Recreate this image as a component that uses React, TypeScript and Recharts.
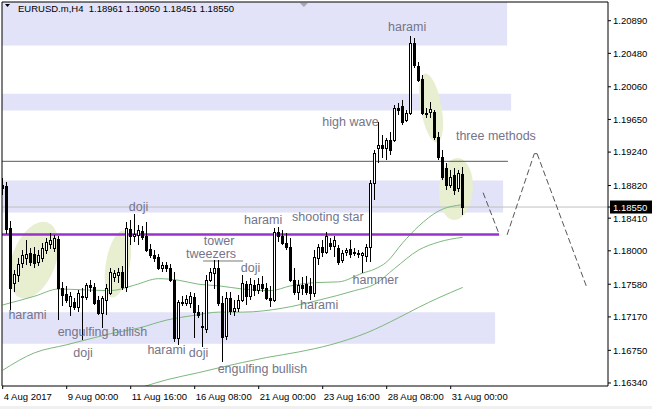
import React from 'react';
import {
  ComposedChart,
  Bar,
  Line,
  XAxis,
  YAxis,
  ReferenceArea,
  ReferenceLine,
  ReferenceDot,
  Customized,
} from 'recharts';

// ---------- data (EURUSD.m, H4) ----------
const opens = [
  1.1883, 1.1881, 1.1829, 1.1760, 1.1770, 1.1785, 1.1791, 1.1797, 1.1796, 1.1786,
  1.1791, 1.1801, 1.1809, 1.1804, 1.1815, 1.1753, 1.1746, 1.1731, 1.1736, 1.1729,
  1.1743, 1.1742, 1.1757, 1.1755, 1.1738, 1.1722, 1.1738, 1.1747, 1.1767, 1.1770,
  1.1773, 1.1755, 1.1827, 1.1819, 1.1820, 1.1825, 1.1819, 1.1802, 1.1795, 1.1792,
  1.1778, 1.1782, 1.1778, 1.1763, 1.1690, 1.1736, 1.1735, 1.1734, 1.1742, 1.1723,
  1.1705, 1.1702, 1.1763, 1.1772, 1.1779, 1.1734, 1.1693, 1.1741, 1.1724, 1.1728,
  1.1738, 1.1758, 1.1743, 1.1757, 1.1751, 1.1758, 1.1753, 1.1741, 1.1738, 1.1824,
  1.1819, 1.1810, 1.1805, 1.1763, 1.1748, 1.1757, 1.1758, 1.1756, 1.1747, 1.1791,
  1.1805, 1.1798, 1.1810, 1.1806, 1.1804, 1.1788, 1.1798, 1.1802, 1.1798, 1.1797,
  1.1795, 1.1793, 1.1805, 1.1885, 1.1929, 1.1933, 1.1929, 1.1939, 1.1939, 1.1979,
  1.1982, 1.1964, 1.1973, 1.2061, 1.2032, 1.2016, 1.1973, 1.1974, 1.1974, 1.1943,
  1.1918, 1.1904, 1.1883, 1.1895, 1.1879, 1.18961,
];
const highs = [
  1.1891, 1.1886, 1.1837, 1.1776, 1.1791, 1.1801, 1.1814, 1.1804, 1.1805, 1.1801,
  1.1810, 1.1816, 1.1822, 1.1820, 1.1819, 1.1761, 1.1756, 1.1748, 1.1741, 1.1751,
  1.1753, 1.1760, 1.1763, 1.1760, 1.1743, 1.1743, 1.1758, 1.1778, 1.1776, 1.1778,
  1.1781, 1.1836, 1.1839, 1.1846, 1.1832, 1.1831, 1.1836, 1.1809, 1.1801, 1.1796,
  1.1786, 1.1786, 1.1783, 1.1773, 1.1738, 1.1743, 1.1745, 1.1748, 1.1747, 1.1732,
  1.1723, 1.1770, 1.1778, 1.1788, 1.1789, 1.1743, 1.1748, 1.1748, 1.1738, 1.1745,
  1.1770, 1.1762, 1.1766, 1.1763, 1.1766, 1.1768, 1.1760, 1.1756, 1.1829, 1.1830,
  1.1826, 1.1822, 1.1816, 1.1778, 1.1763, 1.1767, 1.1768, 1.1766, 1.1801, 1.1809,
  1.1814, 1.1824, 1.1816, 1.1819, 1.1807, 1.1801, 1.1804, 1.1814, 1.1804, 1.1801,
  1.1798, 1.1809, 1.1889, 1.1927, 1.1962, 1.1945, 1.1942, 1.1949, 1.1983, 1.1986,
  1.1989, 1.1977, 1.2070, 1.2067, 1.2037, 1.2021, 1.1979, 1.1987, 1.1977, 1.1949,
  1.1927, 1.1910, 1.1902, 1.1904, 1.1902, 1.19050,
];
const lows = [
  1.1870, 1.1821, 1.1726, 1.1748, 1.1761, 1.1778, 1.1782, 1.1781, 1.1778, 1.1781,
  1.1786, 1.1796, 1.1802, 1.1798, 1.1713, 1.1731, 1.1734, 1.1718, 1.1726, 1.1723,
  1.1688, 1.1738, 1.1748, 1.1732, 1.1719, 1.1703, 1.1719, 1.1744, 1.1761, 1.1760,
  1.1751, 1.1748, 1.1807, 1.1811, 1.1807, 1.1814, 1.1799, 1.1791, 1.1786, 1.1776,
  1.1773, 1.1773, 1.1761, 1.1685, 1.1682, 1.1731, 1.1731, 1.1728, 1.1690, 1.1716,
  1.1679, 1.1697, 1.1761, 1.1752, 1.1731, 1.1660, 1.1688, 1.1719, 1.1718, 1.1723,
  1.1736, 1.1732, 1.1738, 1.1743, 1.1746, 1.1748, 1.1738, 1.1729, 1.1736, 1.1811,
  1.1807, 1.1801, 1.1761, 1.1744, 1.1738, 1.1744, 1.1744, 1.1738, 1.1742, 1.1782,
  1.1792, 1.1796, 1.1801, 1.1792, 1.1782, 1.1785, 1.1793, 1.1791, 1.1793, 1.1791,
  1.1772, 1.1786, 1.1786, 1.1864, 1.1910, 1.1917, 1.1914, 1.1920, 1.1937, 1.1971,
  1.1958, 1.1962, 1.1971, 1.2030, 1.2012, 1.1971, 1.1967, 1.1967, 1.1939, 1.1914,
  1.1889, 1.1876, 1.1879, 1.1870, 1.1874, 1.18451,
];
const closes = [
  1.1879, 1.1827, 1.1753, 1.1771, 1.1783, 1.1795, 1.1796, 1.1786, 1.1785, 1.1795,
  1.1804, 1.1811, 1.1814, 1.1816, 1.1753, 1.1745, 1.1738, 1.1743, 1.1729, 1.1747,
  1.1742, 1.1757, 1.1755, 1.1734, 1.1722, 1.1741, 1.1753, 1.1773, 1.1772, 1.1773,
  1.1755, 1.1829, 1.1819, 1.1821, 1.1826, 1.1817, 1.1801, 1.1795, 1.1791, 1.1778,
  1.1782, 1.1778, 1.1763, 1.1690, 1.1736, 1.1734, 1.1739, 1.1743, 1.1723, 1.1719,
  1.1704, 1.1763, 1.1773, 1.1779, 1.1734, 1.1692, 1.1741, 1.1724, 1.1728, 1.1738,
  1.1760, 1.1743, 1.1758, 1.1751, 1.1758, 1.1753, 1.1741, 1.1738, 1.1824, 1.1819,
  1.1810, 1.1805, 1.1763, 1.1748, 1.1757, 1.1753, 1.1748, 1.1747, 1.1792, 1.1805,
  1.1798, 1.1819, 1.1806, 1.1814, 1.1786, 1.1797, 1.1801, 1.1796, 1.1797, 1.1796,
  1.1797, 1.1805, 1.1885, 1.1923, 1.1933, 1.1929, 1.1939, 1.1927, 1.1979, 1.1977,
  1.1962, 1.1973, 1.2061, 1.2033, 1.2015, 1.1973, 1.1972, 1.1978, 1.1943, 1.1918,
  1.1893, 1.1883, 1.1893, 1.1876, 1.1898, 1.18550,
];

// moving averages, read at sample bars
const maFastIdx = [0, 8, 14, 20, 27, 33, 39, 44, 49, 54, 60, 67, 72, 78, 84, 90, 93, 96, 100, 104, 109, 115];
const maFastVal = [1.1732, 1.1743, 1.1752, 1.1751, 1.1750, 1.1757, 1.1765, 1.1763, 1.1758, 1.1756, 1.1752, 1.1750, 1.1756, 1.1760, 1.1761, 1.1772, 1.1777, 1.1786, 1.1810, 1.1831, 1.1850, 1.1858];
const maMidIdx = [0, 8, 16, 23, 27, 34, 41, 48, 54, 60, 70, 79, 88, 93, 98, 104, 109, 115];
const maMidVal = [1.1650, 1.1672, 1.1682, 1.1691, 1.1696, 1.1703, 1.1713, 1.1719, 1.1723, 1.1723, 1.1728, 1.1738, 1.1750, 1.1758, 1.1778, 1.1801, 1.1811, 1.1817];
const maSlowIdx = [35, 41, 49, 54, 66, 74, 82, 91, 99, 104, 109, 115];
const maSlowVal = [1.1629, 1.1638, 1.1647, 1.1653, 1.1666, 1.1673, 1.1682, 1.1697, 1.1716, 1.1729, 1.1741, 1.1754];

// axes
const xTickIdx = [0, 16, 32, 48, 64, 80, 96, 112];
const xTickLabels = ['4 Aug 2017', '9 Aug 00:00', '11 Aug 16:00', '16 Aug 08:00', '21 Aug 00:00', '23 Aug 16:00', '28 Aug 08:00', '31 Aug 00:00'];
const yTicks = [1.2089, 1.2048, 1.2006, 1.1965, 1.1924, 1.1882, 1.1841, 1.18, 1.1758, 1.1717, 1.1675, 1.1634];
const lastPrice = 1.1855;
const headerText = 'EURUSD.m,H4\u00A0\u00A01.18961 1.19050 1.18451 1.18550';

// zones (lavender rectangles): x2, yLow, yHigh
const zoneX2 = [126.1, 127.1, 125.1, 123.1];
const zoneLow = [1.2058, 1.19763, 1.18482, 1.16834];
const zoneHigh = [1.21125, 1.19973, 1.18884, 1.17227];

// levels
const resistanceLevel = 1.19124;
const supportLevel = 1.18205;
const tweezerLevel = 1.17872;

// projection path (dashed)
const projX = [120.1, 124.1, 126.1, 132.9, 133.6, 146.1];
const projY = [1.1873, 1.1821, 1.1820, 1.1922, 1.1922, 1.1753];

// highlighted ellipses
const ellX = [7.8, 28.8, 107.1, 113.3];
const ellY = [1.17884, 1.17834, 1.19794, 1.18776];
const ellRx = [40, 34, 35, 31];
const ellRy = [22, 12, 10.5, 17];
const ellRot = [-70, -80, 80, 94];

// pattern labels
const annTexts = ['harami', 'high wave', 'three methods', 'shooting star', 'harami', 'doji', 'tower', 'tweezers', 'doji', 'hammer', 'harami', 'harami', 'engulfing bullish', 'doji', 'harami', 'doji', 'engulfing bullish'];
const annX = [101.1, 86.95, 123.3, 81.3, 65.1, 33.95, 54.1, 52.1, 61.95, 93.2, 79.1, 6.2, 24.95, 20.1, 40.95, 48.95, 64.95];
const annY = [1.20816, 1.19623, 1.19441, 1.1843, 1.18392, 1.18555, 1.18128, 1.17968, 1.17789, 1.17638, 1.17324, 1.17199, 1.16985, 1.16721, 1.16759, 1.16721, 1.1652];

// ---------- build table ----------
const rows = opens.map((o, i) => ({
  i,
  o,
  h: highs[i],
  l: lows[i],
  c: closes[i],
  maA: maFastIdx.indexOf(i) >= 0 ? maFastVal[maFastIdx.indexOf(i)] : null,
  maB: maMidIdx.indexOf(i) >= 0 ? maMidVal[maMidIdx.indexOf(i)] : null,
  maC: maSlowIdx.indexOf(i) >= 0 ? maSlowVal[maSlowIdx.indexOf(i)] : null,
}));

const X0 = -0.175;
const X1 = 151.325;
const Y0 = 1.16302;
const Y1 = 1.21125;

const AX_FONT = 'Liberation Sans, Arial, sans-serif';

const Candle = (props: any) => {
  const { x, y, width, height, payload } = props;
  if (x == null || y == null || !payload) return null;
  const top = Math.min(y, y + height);
  const span = Math.abs(height);
  const hi = payload.h;
  const lo = payload.l;
  const k = hi === lo ? 0 : span / (hi - lo);
  const yo = top + (hi - payload.o) * k;
  const yc = top + (hi - payload.c) * k;
  const cx = Math.round(x + width / 2 - 0.5);
  const bull = payload.c >= payload.o;
  const bt = Math.round(Math.min(yo, yc));
  const bb = Math.round(Math.max(yo, yc));
  return (
    <g>
      <line x1={cx + 0.5} x2={cx + 0.5} y1={Math.round(top)} y2={Math.round(top + span)} stroke="#000" strokeWidth={1} />
      <rect x={cx - 0.5} y={bt + 0.5} width={2} height={Math.max(bb - bt, 0)} fill={bull ? '#fff' : '#000'} stroke="#000" strokeWidth={1} shapeRendering="crispEdges" />
    </g>
  );
};

const YTick = (props: any) => {
  const { x, y, payload } = props;
  const v = payload.value;
  const txt = Number(v).toFixed(5);
  if (Math.abs(v - lastPrice) < 1e-7) {
    return (
      <g>
        <rect x={x - 3} y={y - 6.5} width={42} height={13} fill="#000" />
        <text x={x} y={y + 3.5} fill="#fff" fontSize={9.5} fontFamily={AX_FONT}>{txt}</text>
      </g>
    );
  }
  return (
    <text x={x} y={y + 3.4} fill="#000" fontSize={9.5} fontFamily={AX_FONT}>{txt}</text>
  );
};

const XTick = (props: any) => {
  const { x, y, payload } = props;
  const k = xTickIdx.indexOf(payload.value);
  return (
    <text x={x + 1} y={y + 9} fill="#000" fontSize={9.5} fontFamily={AX_FONT} textAnchor="start">
      {k >= 0 ? xTickLabels[k] : ''}
    </text>
  );
};

const makeEllipse = (k: number) => (p: any) => (
  <ellipse
    cx={p.cx}
    cy={p.cy}
    rx={ellRx[k]}
    ry={ellRy[k]}
    transform={`rotate(${ellRot[k]} ${p.cx} ${p.cy})`}
    fill="#E8EFD0"
    stroke="none"
  />
);

const makeLabel = (k: number) => (p: any) => (
  <text
    x={p.cx}
    y={p.cy + 4.4}
    textAnchor="middle"
    fontSize={12.5}
    fontFamily={AX_FONT}
    fill="#74748a"
  >
    {annTexts[k]}
  </text>
);

const shiftMarker = (p: any) => (
  <polygon points={`${p.cx - 4},${p.cy + 1} ${p.cx + 4},${p.cy + 1} ${p.cx},${p.cy + 5}`} fill="#a8a8a8" />
);

const Header = () => (
  <g>
    <polygon points="5,4 10,4 7.5,7" fill="#000" />
    <text x={18} y={12} fontSize={9.5} fontFamily={AX_FONT} fill="#000">{headerText}</text>
  </g>
);

export default function App() {
  return (
    <div style={{ position: 'absolute', left: 0, top: 0, width: 652, height: 409, background: '#fff', overflow: 'hidden' }}>
      <ComposedChart
        width={652}
        height={409}
        data={rows}
        margin={{ top: 2, right: 0, bottom: 0, left: 2 }}
      >
        <XAxis
          dataKey="i"
          type="number"
          domain={[X0, X1]}
          allowDataOverflow
          ticks={xTickIdx}
          interval={0}
          height={23}
          tickSize={3}
          tickMargin={2}
          tick={<XTick />}
          axisLine={{ stroke: '#000' }}
          tickLine={{ stroke: '#000' }}
        />
        <YAxis
          orientation="right"
          type="number"
          domain={[Y0, Y1]}
          allowDataOverflow
          ticks={[...yTicks, lastPrice]}
          interval={0}
          width={44}
          tickSize={3}
          tickMargin={2}
          tick={<YTick />}
          axisLine={{ stroke: '#000' }}
          tickLine={{ stroke: '#000' }}
        />

        {zoneX2.map((x2, k) => (
          <ReferenceArea
            key={'z' + k}
            x1={X0}
            x2={x2}
            y1={zoneLow[k]}
            y2={zoneHigh[k]}
            fill="#E2E2F8"
            fillOpacity={1}
            stroke="none"
            ifOverflow="hidden"
            zIndex={-90}
          />
        ))}

        {ellX.map((ex, k) => (
          <ReferenceDot
            key={'e' + k}
            x={ex}
            y={ellY[k]}
            r={1}
            shape={makeEllipse(k)}
            ifOverflow="visible"
            zIndex={-80}
          />
        ))}

        <ReferenceLine segment={[{ x: X0, y: resistanceLevel }, { x: 126.3, y: resistanceLevel }]} stroke="#5a5a5a" strokeWidth={1} ifOverflow="visible" zIndex={-70} />
        <ReferenceLine y={lastPrice} stroke="#c0c0c0" strokeWidth={1} ifOverflow="visible" zIndex={-70} />
        <ReferenceLine segment={[{ x: 50.1, y: tweezerLevel }, { x: 60.1, y: tweezerLevel }]} stroke="#7a7a7a" strokeWidth={1} ifOverflow="visible" zIndex={-70} />
        <ReferenceLine segment={[{ x: projX[0], y: projY[0] }, { x: projX[1], y: projY[1] }]} stroke="#555" strokeDasharray="6 3" ifOverflow="visible" zIndex={-70} />
        <ReferenceLine segment={[{ x: projX[2], y: projY[2] }, { x: projX[3], y: projY[3] }]} stroke="#555" strokeDasharray="6 3" ifOverflow="visible" zIndex={-70} />
        <ReferenceLine segment={[{ x: projX[3], y: projY[3] }, { x: projX[4], y: projY[4] }]} stroke="#555" ifOverflow="visible" zIndex={-70} />
        <ReferenceLine segment={[{ x: projX[4], y: projY[4] }, { x: projX[5], y: projY[5] }]} stroke="#555" strokeDasharray="6 3" ifOverflow="visible" zIndex={-70} />

        <Line dataKey="maA" type="monotone" stroke="#7cb87c" strokeWidth={1} dot={false} connectNulls isAnimationActive={false} zIndex={-60} />
        <Line dataKey="maB" type="monotone" stroke="#7cb87c" strokeWidth={1} dot={false} connectNulls isAnimationActive={false} zIndex={-60} />
        <Line dataKey="maC" type="monotone" stroke="#7cb87c" strokeWidth={1} dot={false} connectNulls isAnimationActive={false} zIndex={-60} />

        <ReferenceLine segment={[{ x: X0, y: supportLevel }, { x: 124.1, y: supportLevel }]} stroke="#9932CC" strokeWidth={2.5} ifOverflow="visible" zIndex={-50} />

        <Bar dataKey={(d: any) => [d.l, d.h]} shape={Candle} barSize={3} isAnimationActive={false} zIndex={300} />

        {annTexts.map((t, k) => (
          <ReferenceDot
            key={'a' + k}
            x={annX[k]}
            y={annY[k]}
            r={1}
            shape={makeLabel(k)}
            ifOverflow="visible"
            zIndex={900}
          />
        ))}

        <ReferenceDot x={75.3} y={Y1} r={1} shape={shiftMarker} ifOverflow="visible" zIndex={900} />
        <ReferenceLine x={X0} stroke="#000" strokeWidth={1} ifOverflow="visible" zIndex={950} />
        <ReferenceLine y={Y1} stroke="#000" strokeWidth={1} ifOverflow="visible" zIndex={950} />
        <Customized component={Header} />
      </ComposedChart>
      <div style={{ position: 'absolute', left: 0, top: 406, width: 652, height: 3, background: '#f0f0f0' }} />
    </div>
  );
}
